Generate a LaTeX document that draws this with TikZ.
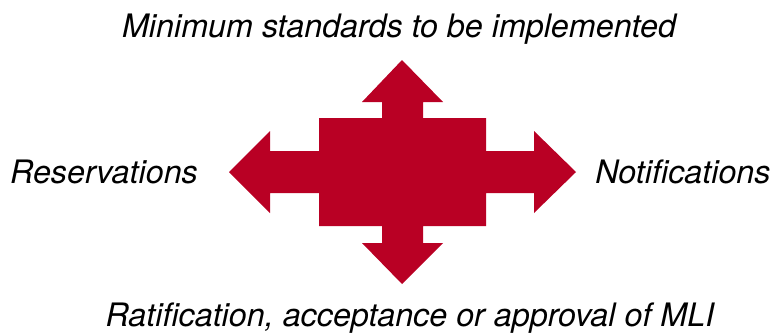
\documentclass[tikz,border=0pt]{standalone}
\usepackage{fontspec}
\setmainfont{TeX Gyre Heros}
\usepackage{tikz}
\usetikzlibrary{positioning}
\definecolor{mlired}{RGB}{185,0,36}

\begin{document}
\begin{tikzpicture}[x=1pt,y=-1pt,
        lbl/.style={font=\fontsize{32.3}{37}\selectfont\itshape, anchor=base, inner sep=0pt}]

        % Khung hình
        \useasboundingbox (0,0) rectangle (773,333);

        % Vẽ mũi tên bốn hướng
        \fill[mlired] (402,60) -- (443,102) -- (423,102) -- (423,118) -- (486,118) -- (486,151)
            -- (534,151) -- (534,131) -- (576,172) -- (534,213) -- (534,193) -- (486,193)
            -- (486,226) -- (423,226) -- (423,243) -- (443,243) -- (402,284) -- (362,243)
            -- (382,243) -- (382,226) -- (319,226) -- (319,193) -- (270,193) -- (270,213)
            -- (229,172) -- (270,131) -- (270,151) -- (319,151) -- (319,118) -- (382,118)
            -- (382,102) -- (362,102) -- cycle;

        % Các nhãn
        \node[lbl] (top) at (399,37) {Minimum standards to be implemented};
        \node[lbl] (bottom) at (410,326) {Ratification, acceptance or approval of MLI};
        \node[lbl] (left) at (104,183) {Reservations};
        \node[lbl] (right) at (683,183) {Notifications};

\end{tikzpicture}
\end{document}
